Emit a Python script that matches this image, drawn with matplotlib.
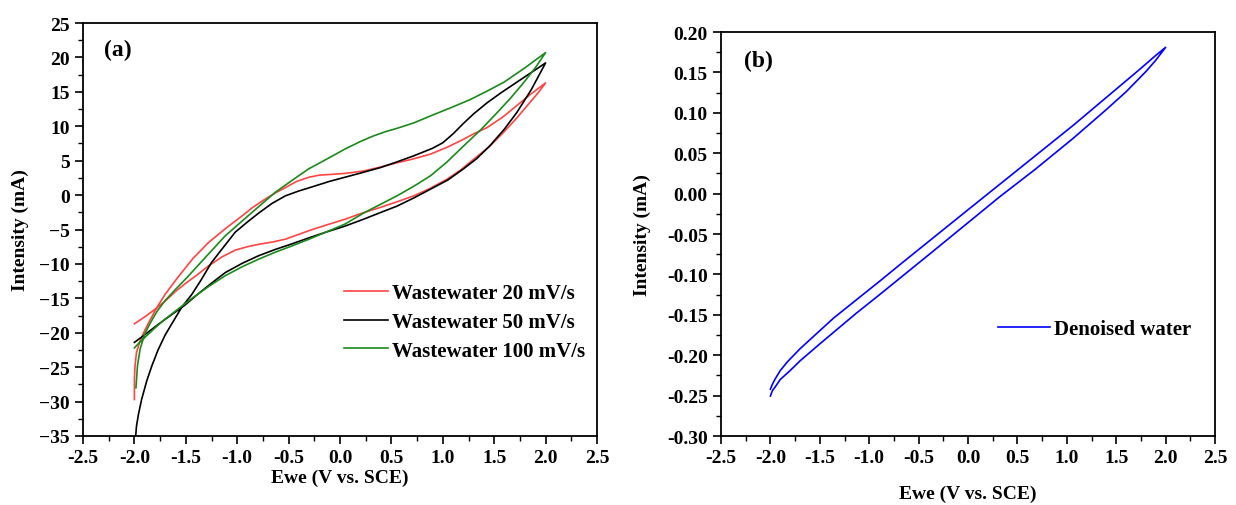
import numpy as np
import matplotlib
matplotlib.use('Agg')
import matplotlib.pyplot as plt
from matplotlib.ticker import MultipleLocator, FormatStrFormatter

plt.rcParams['font.family'] = ['Liberation Serif', 'DejaVu Serif']
plt.rcParams['font.weight'] = 'bold'

# (a) wastewater CVs, forward branch then reverse branch
red_x = [-2.0, -1.9, -1.8, -1.70, -1.60, -1.5, -1.39, -1.28, -1.15, -1.02, -0.9, -0.79, -0.65, -0.53, -0.4, -0.27, -0.1,
         0.05, 0.2, 0.39, 0.55, 0.72, 0.88, 1.04, 1.17, 1.30, 1.45, 1.59, 1.72, 1.85, 1.93, 2.0,
         1.85, 1.72, 1.58, 1.43, 1.3, 1.2, 1.05, 0.88, 0.7, 0.555, 0.4, 0.23, 0.05, -0.09, -0.2, -0.3, -0.42,
         -0.53, -0.63, -0.73, -0.85, -0.95, -1.1, -1.28, -1.43, -1.58, -1.70, -1.78, -1.86, -1.91, -1.95,
         -1.98, -1.995, -2.0, -2.0]
red_y = [-18.7, -17.7, -16.6, -15.4, -14.0, -12.8, -11.6, -10.3, -9.0, -8.0, -7.5, -7.15, -6.8, -6.4, -5.7, -5.0, -4.2,
         -3.5, -2.7, -1.8, -1.0, -0.1, 1.0, 2.3, 3.6, 5.2, 7.0, 9.1, 11.2, 13.5, 14.9, 16.3,
         14.6, 13.0, 11.3, 9.8, 8.9, 8.1, 7.0, 5.95, 5.2, 4.7, 4.1, 3.5, 3.15, 3.0, 2.9, 2.6, 2.0,
         1.1, 0.3, -0.6, -1.8, -3.0, -4.7, -6.9, -9.2, -12.0, -14.4, -16.3, -18.5, -20.0, -21.4,
         -22.9, -25.0, -26.8, -29.7]

black_x = [-2.0, -1.9, -1.77, -1.64, -1.51, -1.4, -1.25, -1.115, -0.95, -0.79, -0.63, -0.47, -0.3, -0.14, 0.05,
           0.23, 0.4, 0.555, 0.72, 0.88, 1.05, 1.2, 1.33, 1.46, 1.6, 1.72, 1.86, 2.0,
           1.86, 1.72, 1.57, 1.43, 1.3, 1.2, 1.1, 1.0, 0.9, 0.717, 0.55, 0.394, 0.2, 0.05, -0.1, -0.27, -0.4,
           -0.53, -0.66, -0.79, -0.9, -1.02, -1.13, -1.25, -1.35, -1.44, -1.54, -1.62, -1.70, -1.77, -1.83,
           -1.88, -1.93, -1.96, -1.98, -1.99]
black_y = [-21.4, -20.3, -18.8, -17.4, -16.0, -14.6, -12.8, -11.25, -9.9, -8.8, -7.9, -7.1, -6.2, -5.4, -4.5,
           -3.5, -2.5, -1.6, -0.4, 0.86, 2.2, 3.8, 5.3, 7.2, 9.6, 12.0, 15.3, 19.2,
           17.8, 16.4, 14.9, 13.4, 11.8, 10.4, 8.9, 7.6, 6.8, 5.7, 4.8, 4.0, 3.2, 2.6, 2.0, 1.2, 0.6,
           -0.1, -1.2, -2.6, -3.9, -5.4, -7.5, -9.8, -12.3, -14.4, -16.3, -18.3, -20.3, -22.5, -24.8,
           -27.0, -29.7, -31.8, -33.6, -35.5]

green_x = [-2.0, -1.95, -1.9, -1.8, -1.70, -1.57, -1.44, -1.28, -1.115, -0.95, -0.79, -0.63, -0.47, -0.3, -0.14,
           0.05, 0.23, 0.4, 0.555, 0.72, 0.88, 1.04, 1.2, 1.37, 1.53, 1.66, 1.79, 1.9, 2.0,
           1.8, 1.595, 1.43, 1.27, 1.08, 0.88, 0.72, 0.555, 0.44, 0.327, 0.2, 0.05, -0.12, -0.306, -0.47,
           -0.63, -0.87, -1.115, -1.3, -1.49, -1.60, -1.70, -1.78, -1.85, -1.9, -1.945, -1.97, -1.985]
green_y = [-22.2, -21.4, -20.7, -19.3, -18.0, -16.5, -15.0, -13.3, -11.7, -10.4, -9.3, -8.3, -7.4, -6.4, -5.4,
           -4.2, -2.6, -1.3, -0.1, 1.3, 2.8, 4.8, 7.1, 9.5, 12.0, 14.1, 16.4, 18.5, 20.7,
           18.5, 16.4, 15.1, 13.9, 12.7, 11.5, 10.5, 9.7, 9.2, 8.6, 7.8, 6.7, 5.3, 3.8, 2.1,
           0.4, -2.7, -5.9, -8.9, -12.0, -13.7, -15.3, -16.9, -18.7, -20.2, -22.4, -24.8, -28.0]

# (b) denoised water
blue_x = [-2.0, -1.98, -1.95, -1.9, -1.8, -1.70, -1.5, -1.13, -0.89, -0.35, 0.32, 0.68, 1.07, 1.40, 1.6, 1.8, 1.9, 2.0,
          1.9, 1.74, 1.40, 1.07, 0.51, -0.01, -0.69, -0.89, -1.36, -1.70, -1.83, -1.9, -1.95, -1.98, -2.0]
blue_y = [-0.2505, -0.244, -0.239, -0.230, -0.219, -0.207, -0.186, -0.148, -0.1246, -0.071, -0.004, 0.030, 0.069,
          0.104, 0.126, 0.151, 0.165, 0.181,
          0.171, 0.154, 0.119, 0.085, 0.030, -0.021, -0.088, -0.108, -0.154, -0.192, -0.2085, -0.219, -0.229,
          -0.236, -0.242]

W, H = 1236, 506
fig = plt.figure(figsize=(W / 100, H / 100), dpi=100)
ax1 = fig.add_axes([83 / W, 1 - 437 / H, (597 - 83) / W, (437 - 24) / H])
ax2 = fig.add_axes([721 / W, 1 - 437 / H, (1215 - 721) / W, (437 - 33) / H])

lw = 1.2
ax1.plot(red_x, red_y, color='#ff4444', lw=lw, label='Wastewater 20 mV/s')
ax1.plot(black_x, black_y, color='black', lw=lw, label='Wastewater 50 mV/s')
ax1.plot(green_x, green_y, color='#1a8a1a', lw=lw, label='Wastewater 100 mV/s')
ax1.set_xlim(-2.5, 2.5)
ax1.set_ylim(-35, 25)
ax1.xaxis.set_major_locator(MultipleLocator(0.5))
ax1.xaxis.set_minor_locator(MultipleLocator(0.25))
ax1.yaxis.set_major_locator(MultipleLocator(5))
ax1.yaxis.set_minor_locator(MultipleLocator(2.5))
ax1.xaxis.set_major_formatter(FormatStrFormatter('%.1f'))
ax1.set_xlabel('Ewe (V vs. SCE)', fontsize=14, fontweight='bold')
ax1.set_ylabel('Intensity (mA)', fontsize=14, fontweight='bold')
ax1.xaxis.set_label_coords(0.5, -0.08)
ax1.yaxis.set_label_coords(-0.106, 0.5)
ax1.text(0.068, 0.935, '(a)', transform=ax1.transAxes, ha='center', va='center',
         fontsize=17, fontweight='bold')
ax1.legend(loc='upper left', bbox_to_anchor=(0.508, 0.37), frameon=False,
           fontsize=15, handlelength=2.1, handletextpad=0.2, labelspacing=0.42,
           borderpad=0, borderaxespad=0)

ax2.plot(blue_x, blue_y, color='#0000ff', lw=lw, label='Denoised water')
ax2.set_xlim(-2.5, 2.5)
ax2.set_ylim(-0.30, 0.20)
ax2.xaxis.set_major_locator(MultipleLocator(0.5))
ax2.xaxis.set_minor_locator(MultipleLocator(0.25))
ax2.yaxis.set_major_locator(MultipleLocator(0.05))
ax2.yaxis.set_minor_locator(MultipleLocator(0.025))
ax2.xaxis.set_major_formatter(FormatStrFormatter('%.1f'))
ax2.yaxis.set_major_formatter(FormatStrFormatter('%.2f'))
ax2.set_xlabel('Ewe (V vs. SCE)', fontsize=14, fontweight='bold')
ax2.set_ylabel('Intensity (mA)', fontsize=14, fontweight='bold')
ax2.xaxis.set_label_coords(0.5, -0.121)
ax2.yaxis.set_label_coords(-0.142, 0.5)
ax2.text(0.075, 0.93, '(b)', transform=ax2.transAxes, ha='center', va='center',
         fontsize=17, fontweight='bold')
ax2.legend(loc='upper left', bbox_to_anchor=(0.56, 0.29), frameon=False,
           fontsize=15, handlelength=2.5, handletextpad=0.2,
           borderpad=0, borderaxespad=0)

for ax in (ax1, ax2):
    for s in ax.spines.values():
        s.set_linewidth(1.3)
    ax.tick_params(which='major', direction='out', length=6, width=1.2,
                   labelsize=14, top=False, right=False)
    ax.tick_params(which='minor', direction='out', length=3.5, width=1.0,
                   top=False, right=False)
    for lab in ax.get_xticklabels() + ax.get_yticklabels():
        lab.set_fontweight('bold')

fig.savefig('out.png', dpi=100)
